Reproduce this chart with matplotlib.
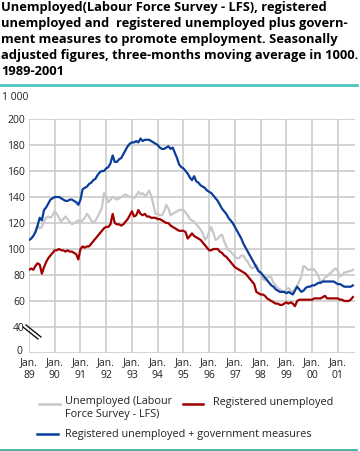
import numpy as np
import matplotlib
matplotlib.use("Agg")
import matplotlib.pyplot as plt
from matplotlib.lines import Line2D
from matplotlib.transforms import ScaledTranslation

plt.rcParams['font.family'] = ['Open Sans', 'DejaVu Sans']

# monthly values, Jan 1989 - Aug 2001, in 1000
lfs = [107, 108, 110, 113, 118, 116, 117, 121, 124, 125, 124, 126,
       129, 127, 124, 121, 123, 125, 123, 121, 119, 120, 121, 122,
       121, 122, 124, 127, 125, 122, 120, 122, 125, 128, 132, 143,
       140, 136, 138, 140, 139, 138, 139, 140, 141, 142, 141, 140,
       140, 139, 141, 144, 142, 143, 141, 142, 145, 141, 134, 127,
       127, 126, 126, 129, 134, 131, 126, 127, 128, 129, 130, 130,
       130, 128, 126, 123, 122, 121, 119, 117, 115, 112, 107, 109,
       113, 117, 112, 107, 108, 110, 111, 106, 102, 99, 98, 96,
       94, 93, 93, 95, 95, 92, 90, 87, 85, 86, 88, 84,
       80, 77, 76, 78, 79, 78, 74, 72, 70, 69, 68, 67,
       69, 70, 68, 67, 69, 72, 75, 79, 87, 86, 84, 84,
       85, 84, 82, 79, 74, 76, 78, 79, 81, 82, 84, 85,
       83, 79, 80, 82, 82, 83, 83, 84]

registered = [84, 85, 84, 87, 89, 88, 81, 86, 90, 93, 95, 97,
              99, 99, 100, 99, 99, 98, 99, 98, 98, 97, 96, 92,
              100, 102, 101, 102, 102, 104, 106, 108, 110, 112, 114, 116,
              117, 117, 119, 127, 120, 119, 119, 118, 119, 121, 123, 126,
              129, 125, 126, 130, 127, 126, 127, 125, 125, 124, 124, 124,
              123, 123, 122, 121, 120, 120, 118, 117, 116, 115, 114, 114,
              114, 113, 108, 110, 112, 110, 109, 108, 107, 105, 103, 101,
              99, 99, 100, 100, 100, 98, 97, 95, 94, 92, 90, 88,
              86, 85, 84, 83, 82, 81, 79, 77, 75, 73, 67, 66,
              65, 65, 64, 62, 61, 60, 59, 58, 58, 57, 57, 58,
              59, 58, 59, 58, 56, 60, 61, 61, 61, 61, 61, 61,
              61, 62, 62, 62, 62, 63, 64, 62, 62, 62, 62, 62,
              62, 61, 61, 60, 60, 60, 61, 63]

reg_measures = [107, 108, 110, 113, 118, 124, 122, 130, 132, 135, 138, 139,
                140, 140, 140, 139, 138, 137, 137, 138, 138, 137, 136, 134,
                138, 146, 147, 148, 150, 151, 153, 154, 157, 159, 160, 160,
                162, 163, 166, 172, 167, 167, 169, 170, 173, 176, 179, 181,
                182, 182, 183, 182, 185, 183, 184, 184, 184, 183, 182, 181,
                180, 178, 177, 177, 178, 179, 177, 178, 174, 170, 165, 163,
                162, 160, 158, 155, 153, 156, 152, 151, 149, 148, 147, 145,
                144, 143, 141, 139, 137, 134, 131, 129, 127, 124, 122, 120,
                117, 114, 111, 108, 104, 101, 98, 95, 92, 89, 86, 83,
                82, 80, 78, 76, 74, 72, 71, 69, 68, 67, 67, 67,
                66, 67, 66, 65, 68, 71, 69, 67, 68, 70, 71, 71,
                72, 72, 73, 74, 74, 75, 75, 75, 75, 75, 75, 74,
                73, 73, 72, 71, 71, 71, 71, 72]

years = list(range(1989, 2002))
year_labels = ['Jan.\n' + str(y)[2:] for y in years]
y_ticks = [20, 40, 60, 80, 100, 120, 140, 160, 180, 200]
y_labels = ['0', '40', '60', '80', '100', '120', '140', '160', '180', '200']

title = ("Unemployed(Labour Force Survey - LFS), registered\n"
         "unemployed and  registered unemployed plus govern-\n"
         "ment measures to promote employment. Seasonally\n"
         "adjusted figures, three-months moving average in 1000.\n"
         "1989-2001")

grey = '#c8c8c8'
red = '#a00000'
blue = '#0a3d9a'
teal = '#4cc4c4'
txt = '#222222'

fig = plt.figure(figsize=(3.6, 4.51), dpi=100)
ax = fig.add_axes([29 / 360, 1 - 353 / 451, 326 / 360, 234 / 451])

x = 1989 + np.arange(len(lfs)) / 12

for s in ax.spines.values():
    s.set_visible(False)
for yv in y_ticks:
    ax.axhline(yv, color=grey, lw=1.1, zorder=1)
for yr in years:
    ax.axvline(yr, color=grey, lw=1.1, zorder=1)

ax.plot(x, lfs, color=grey, lw=1.6, zorder=3)
ax.plot(x, registered, color=red, lw=1.6, zorder=4)
ax.plot(x, reg_measures, color=blue, lw=1.6, zorder=5)

ax.set_xlim(1989, 1989 + 152 / 12)
ax.set_ylim(20, 200)
ax.set_xticks(years)
ax.set_xticklabels(year_labels, fontsize=7.5, color=txt, linespacing=1.25)
ax.set_yticks(y_ticks)
ax.set_yticklabels(y_labels, fontsize=7.5, color=txt)
ax.tick_params(length=0, pad=3)
ax.tick_params(axis='x', pad=3)
# lift the "0" label a little so it clears the first x label
zero = ax.get_yticklabels()[0]
zero.set_transform(zero.get_transform() + ScaledTranslation(-2 / 100, 3 / 100, fig.dpi_scale_trans))

# axis break marks
fig.add_artist(Line2D([23 / 360, 38 / 360], [1 - 327 / 451, 1 - 339 / 451],
                      color='black', lw=0.9))
fig.add_artist(Line2D([26 / 360, 41 / 360], [1 - 325 / 451, 1 - 337 / 451],
                      color='black', lw=0.9))

fig.text(2 / 360, 1 - 97 / 451, '1 000', fontsize=7.5, color=txt, va='center')

fig.text(1 / 360, 1 - 1 / 451, title, fontsize=9.3, fontweight='bold',
         va='top', ha='left', linespacing=1.3, color='black')
fig.add_artist(Line2D([0, 357 / 360], [1 - 85 / 451] * 2, color=teal, lw=2))
fig.add_artist(Line2D([0, 357 / 360], [1 - 450 / 451] * 2, color='#2aa59a', lw=1.2))

# legend
fig.add_artist(Line2D([39 / 360, 60 / 360], [1 - 404 / 451] * 2, color=grey, lw=1.8))
fig.text(65 / 360, 1 - 396 / 451, 'Unemployed (Labour\nForce Survey - LFS)',
         fontsize=7.8, color=txt, va='top', linespacing=1.3)
fig.add_artist(Line2D([183 / 360, 203 / 360], [1 - 404 / 451] * 2, color=red, lw=1.8))
fig.text(213 / 360, 1 - 403 / 451, 'Registered unemployed', fontsize=7.8, color=txt,
         va='center')
fig.add_artist(Line2D([37 / 360, 58 / 360], [1 - 434 / 451] * 2, color=blue, lw=1.8))
fig.text(65 / 360, 1 - 434 / 451, 'Registered unemployed + government measures',
         fontsize=7.8, color=txt, va='center')

fig.savefig('out.png', dpi=100)
